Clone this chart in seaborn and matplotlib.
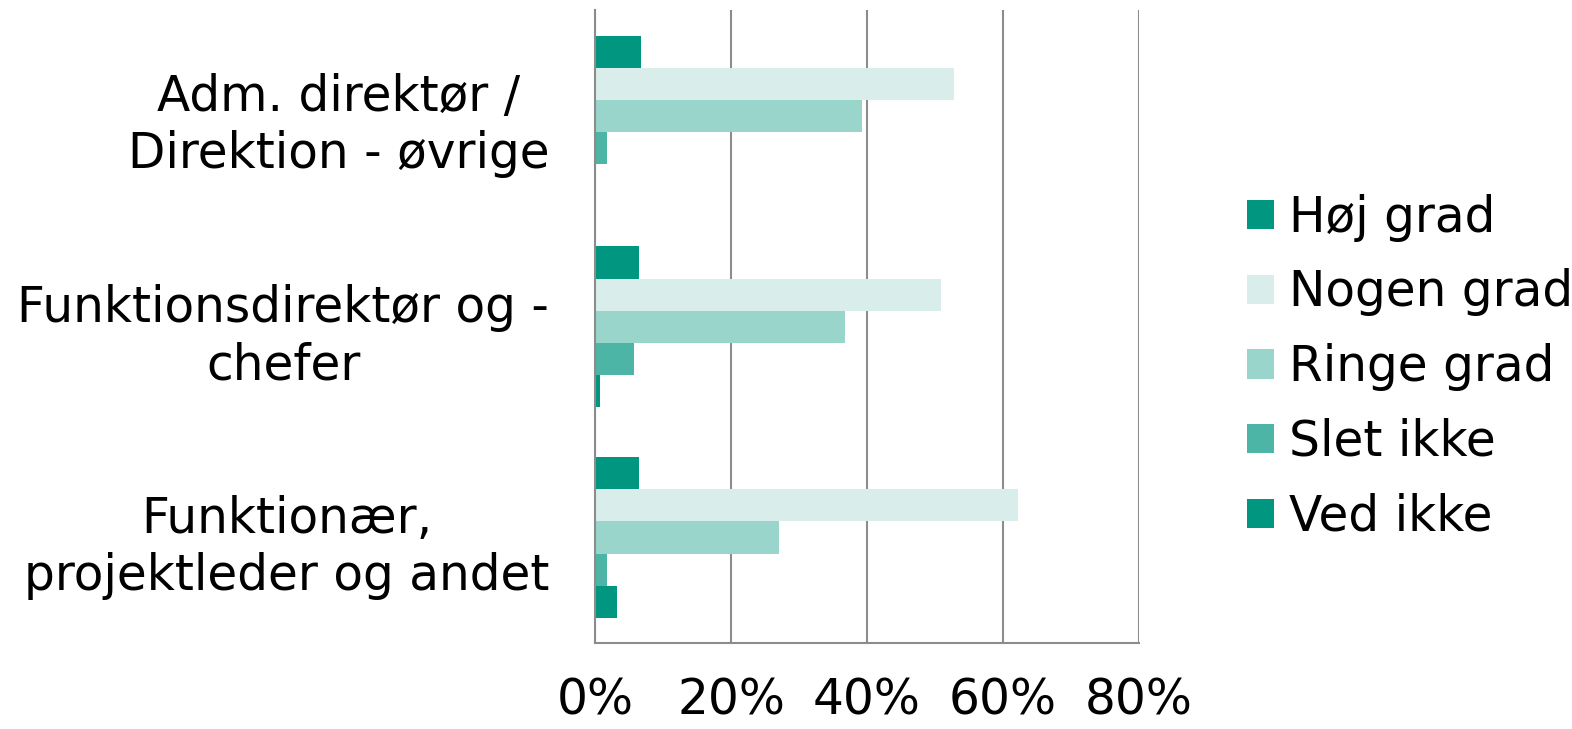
import matplotlib
matplotlib.use("Agg")
import matplotlib.pyplot as plt
import pandas as pd
import seaborn as sns

groups = [
    "Adm. direktør /\nDirektion - øvrige",
    "Funktionsdirektør og -\nchefer",
    "Funktionær,\nprojektleder og andet",
]
answers = ["Høj grad", "Nogen grad", "Ringe grad", "Slet ikke", "Ved ikke"]
hoj_grad = [6.8, 6.4, 6.4]
nogen_grad = [52.8, 50.9, 62.2]
ringe_grad = [39.2, 36.8, 27.1]
slet_ikke = [1.7, 5.7, 1.7]
ved_ikke = [0.0, 0.7, 3.3]
colors = ["#009680", "#d9eeeb", "#99d5cb", "#4db5a6", "#009680"]

series = [hoj_grad, nogen_grad, ringe_grad, slet_ikke, ved_ikke]
rows = []
for ans, vals in zip(answers, series):
    for g, v in zip(groups, vals):
        rows.append({"gruppe": g, "svar": ans, "andel": v})
df = pd.DataFrame(rows)

sns.set_style("white")
plt.rcParams["font.family"] = ["DejaVu Sans"]
plt.rcParams["text.color"] = "black"
plt.rcParams["xtick.color"] = "black"
plt.rcParams["ytick.color"] = "black"

fig = plt.figure(figsize=(15.72, 7.29), dpi=100)
ax = fig.add_axes([0.3785, 0.118, 0.3461, 0.868])

sns.barplot(
    data=df, y="gruppe", x="andel", hue="svar", order=groups, hue_order=answers,
    palette=colors, saturation=1, orient="h", width=0.76, gap=0, linewidth=0, ax=ax,
)

ax.set_xlim(0, 80)
ax.set_xticks([0, 20, 40, 60, 80])
ax.set_xticklabels(["0%", "20%", "40%", "60%", "80%"])
ax.set_xlabel("")
ax.set_ylabel("")
ax.xaxis.grid(True, color="#8c8c8c", linewidth=1.5)
ax.set_axisbelow(True)
ax.tick_params(axis="x", length=0, pad=24, labelsize=35, labelcolor="black")
ax.tick_params(axis="y", length=0, pad=33, labelsize=35, labelcolor="black")
for lbl in ax.get_yticklabels():
    lbl.set_multialignment("center")
    lbl.set_linespacing(1.25)

for side in ["top", "right"]:
    ax.spines[side].set_visible(False)
for side in ["left", "bottom"]:
    ax.spines[side].set_color("#8c8c8c")
    ax.spines[side].set_linewidth(1.5)

ax.legend(
    title=None, frameon=False, fontsize=35, loc="center left",
    bbox_to_anchor=(1.163, 0.436), borderaxespad=0, handlelength=0.55,
    handleheight=0.55, handletextpad=0.3, labelspacing=0.55,
)

fig.savefig("out.png", dpi=100)
